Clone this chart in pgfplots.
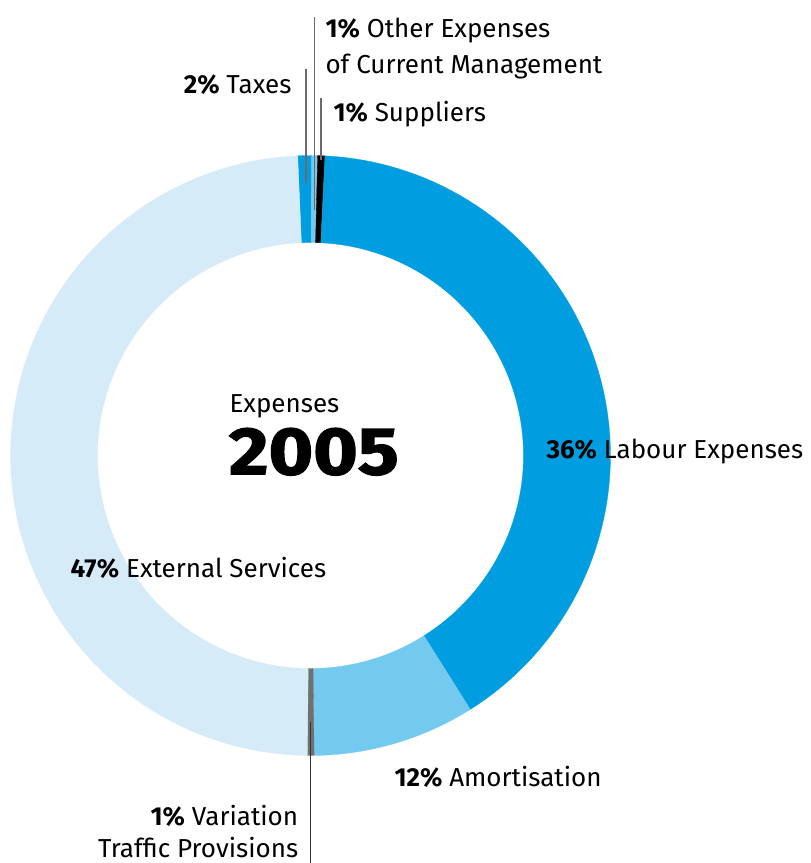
\documentclass[border=0pt]{standalone}
\usepackage{fontspec}
\setmainfont{Fira Sans}
\newfontfamily\yearfont[FakeBold=2,FakeStretch=1.14]{Fira Sans Bold}
\usepackage{pgfplots}
\pgfplotsset{compat=1.18}
\definecolor{dblue}{HTML}{009EE0}
\definecolor{mblue}{HTML}{74C9EE}
\definecolor{lblue}{HTML}{D5EBF8}
\definecolor{sgray}{HTML}{707070}
\definecolor{lgray}{HTML}{6A6A6A}
% one ring segment: start and end as percent of the full circle (clockwise from top)
% samples 0..80 trace the outer arc, 200..280 the inner arc back
\newcommand{\seg}[3]{%
  \addplot[draw=#3, line width=0.3pt, fill=#3, samples at={0,1,...,80,200,201,...,280}, variable=\t]
   ({310.5 + ((\t<100)*300 + (\t>100)*213)*sin(3.6*((\t<100)*(#1+\t/80*(#2-#1)) + (\t>100)*(#2-(\t-200)/80*(#2-#1))))},
    {455.5 - ((\t<100)*300 + (\t>100)*213)*cos(3.6*((\t<100)*(#1+\t/80*(#2-#1)) + (\t>100)*(#2-(\t-200)/80*(#2-#1))))}) -- cycle;
}
\begin{document}
\begin{tikzpicture}
\begin{axis}[
  scale only axis, width=811pt, height=863pt,
  xmin=0, xmax=811, ymin=0, ymax=863, y dir=reverse,
  hide axis, clip=false,
  every node/.append style={inner sep=0pt, outer sep=0pt}]
% cumulative boundaries (percent of circle)
\seg{-0.68}{0.06}{dblue}   % Taxes
\seg{0.06}{0.38}{mblue}    % Other Expenses of Current Management
\seg{0.38}{0.77}{black}    % Suppliers
\seg{0.77}{41.06}{dblue}   % Labour Expenses
\seg{41.06}{49.81}{mblue}  % Amortisation
\seg{49.81}{50.17}{sgray}  % Variation Traffic Provisions
\seg{50.17}{99.32}{lblue}  % External Services
% leader lines
\addplot[lgray, line width=1.6pt] coordinates {(305.9,69) (305.9,183)};
\addplot[lgray, line width=1.6pt] coordinates {(314.6,17) (314.6,210)};
\addplot[lgray, line width=1.6pt] coordinates {(321,98) (321,160)};
\addplot[black!80, line width=1.4pt] coordinates {(310.7,722) (310.7,863)};
% labels
\node[anchor=base west, font=\fontsize{26}{30}\selectfont] at (axis cs:322,37) {\textbf{1\%} Other Expenses};
\node[anchor=base west, font=\fontsize{26}{30}\selectfont] at (axis cs:322,73) {of Current Management};
\node[anchor=base east, font=\fontsize{26}{30}\selectfont] at (axis cs:295,93) {\textbf{2\%} Taxes};
\node[anchor=base west, font=\fontsize{26}{30}\selectfont] at (axis cs:330,121) {\textbf{1\%} Suppliers};
\node[anchor=base west, font=\fontsize{26}{30}\selectfont] at (axis cs:226,412.3) {Expenses};
\node[anchor=base west, font=\fontsize{67}{75}\yearfont] at (axis cs:225.5,474.3) {2005};
\node[anchor=base west, font=\fontsize{26}{30}\selectfont] at (axis cs:67,577) {\textbf{47\%} External Services};
\node[anchor=base west, font=\fontsize{26}{30}\selectfont] at (axis cs:543,458) {\textbf{36\%} Labour Expenses};
\node[anchor=base west, font=\fontsize{26}{30}\selectfont] at (axis cs:391,786) {\textbf{12\%} Amortisation};
\node[anchor=base east, font=\fontsize{26}{30}\selectfont] at (axis cs:301.7,825) {\textbf{1\%} Variation};
\node[anchor=base east, font=\fontsize{26}{30}\selectfont] at (axis cs:301.7,857.5) {Traffic Provisions};
\coordinate (bl) at (axis cs:0,863);
\coordinate (tr) at (axis cs:811,0);
\end{axis}
\pgfresetboundingbox
\path (bl) rectangle (tr);
\end{tikzpicture}
\end{document}
